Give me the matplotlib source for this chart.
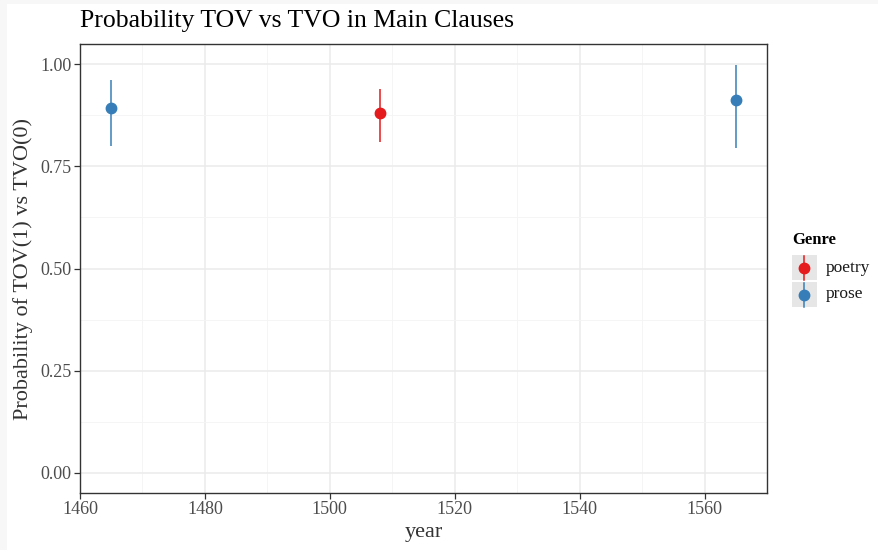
import matplotlib
matplotlib.use("Agg")
import matplotlib.pyplot as plt
from matplotlib.patches import Rectangle
from matplotlib.lines import Line2D

plt.rcParams["font.family"] = ["Liberation Serif", "DejaVu Serif"]

# model estimates per text
genre = ["prose", "poetry", "prose"]
year = [1465, 1508, 1565]
prob = [0.892, 0.880, 0.912]
lower = [0.799, 0.811, 0.794]
upper = [0.961, 0.939, 0.998]

genres = ["poetry", "prose"]
colors = {"poetry": "#E41A1C", "prose": "#377EB8"}

W, H = 879, 550
fig = plt.figure(figsize=(W / 100, H / 100), dpi=100)
fig.patch.set_facecolor("#f7f7f7")
fig.add_artist(Rectangle((7 / W, 0), 1, 1 - 4 / H, transform=fig.transFigure,
                         facecolor="white", edgecolor="none", zorder=-10))

ax = fig.add_axes([80 / W, 1 - 493 / H, (767 - 80) / W, (493 - 44) / H])

for g in genres:
    idx = [i for i, x in enumerate(genre) if x == g]
    xs = [year[i] for i in idx]
    ys = [prob[i] for i in idx]
    err = [[prob[i] - lower[i] for i in idx], [upper[i] - prob[i] for i in idx]]
    ax.errorbar(xs, ys, yerr=err, fmt="o", color=colors[g], ms=7.5,
                elinewidth=1.1, capsize=0, zorder=3)

ax.set_xlim(1460, 1570)
ax.set_ylim(-0.05, 1.05)
ax.set_xticks([1460, 1480, 1500, 1520, 1540, 1560])
ax.set_xticks([1470, 1490, 1510, 1530, 1550], minor=True)
ax.set_yticks([0, 0.25, 0.5, 0.75, 1.0])
ax.set_yticklabels(["0.00", "0.25", "0.50", "0.75", "1.00"])
ax.set_yticks([0.125, 0.375, 0.625, 0.875], minor=True)

ax.grid(which="major", color="#ebebeb", lw=1.1, zorder=0)
ax.grid(which="minor", color="#f4f4f4", lw=0.6, zorder=0)
ax.set_axisbelow(True)
for s in ax.spines.values():
    s.set_color("#333333")
    s.set_linewidth(1.0)
ax.tick_params(which="major", length=4, width=0.9, color="#333333",
               labelcolor="#4d4d4d", labelsize=13, pad=2)
ax.tick_params(which="minor", length=0)

ax.set_xlabel("year", fontsize=16, color="#333333", labelpad=3)
ax.set_ylabel("Probability of TOV(1) vs TVO(0)", fontsize=16, color="#333333", labelpad=5)
fig.text(80 / W, 1 - 21 / H, "Probability TOV vs TVO in Main Clauses",
         fontsize=18.5, color="black", va="center", ha="left")

# legend
fig.text(792 / W, 1 - 240 / H, "Genre", fontsize=12, fontweight="bold", va="center")
for k, g in enumerate(genres):
    cy = 267.5 + 27 * k
    fig.add_artist(Rectangle((792 / W, 1 - (cy + 12.5) / H), 25 / W, 25 / H,
                             transform=fig.transFigure, facecolor="#e6e6e6",
                             edgecolor="none"))
    fig.add_artist(Line2D([804.5 / W] * 2, [1 - (cy - 12) / H, 1 - (cy + 12) / H],
                          transform=fig.transFigure, color=colors[g], lw=1.1))
    fig.add_artist(Line2D([804.5 / W], [1 - cy / H], transform=fig.transFigure,
                          marker="o", ms=7.5, color=colors[g], lw=0))
    fig.text(826 / W, 1 - cy / H, g, fontsize=12.5, color="#1a1a1a", va="center")

fig.savefig("out.png", dpi=100)
